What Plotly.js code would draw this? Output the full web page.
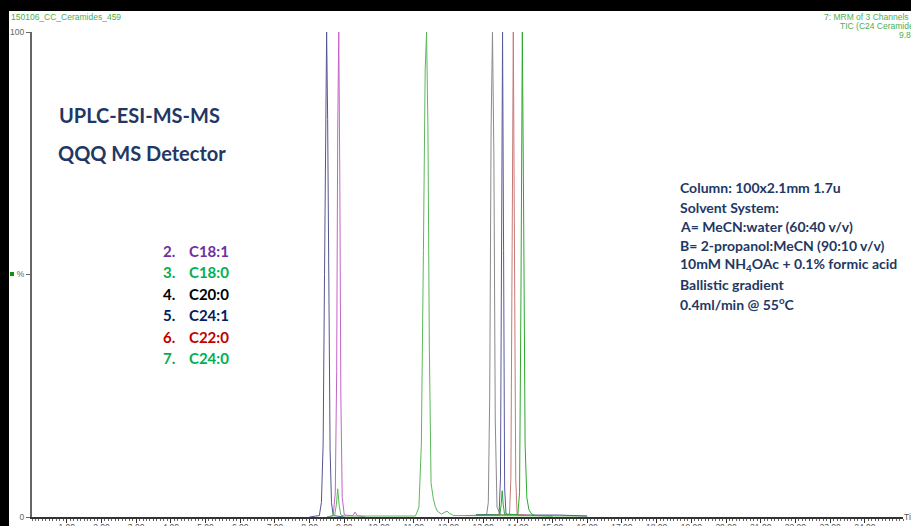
<!DOCTYPE html>
<html>
<head>
<meta charset="utf-8">
<script src="https://cdn.plot.ly/plotly-3.0.1.min.js"></script>
<style>
html,body{margin:0;padding:0;background:#000;overflow:hidden;width:911px;height:526px;}
#chart{position:absolute;left:9px;top:11px;width:902px;height:515px;background:#fff;}
</style>
</head>
<body>
<div id="chart"></div>
<script>
// ---- data (retention time in min, relative intensity in %) ----
const t_peak1 = [8.00, 8.28, 8.34, 8.39, 8.43, 8.46, 8.49, 8.52, 8.55, 8.59, 8.63, 8.68, 9.00];
const i_peak1 = [0, 0.3, 3, 15, 50, 88, 100, 82, 45, 14, 3, 0.3, 0];

const t_c18_1 = [8.50, 8.68, 8.74, 8.78, 8.81, 8.84, 8.87, 8.90, 8.94, 9.00, 9.25, 9.31, 9.37, 9.60];
const i_c18_1 = [0, 0.3, 5, 30, 80, 100, 70, 25, 4, 0.4, 0.3, 1.0, 0.3, 0];

const t_c18_0 = [8.50, 8.72, 8.77, 8.81, 8.85, 8.90, 9.00, 11.05, 11.15, 11.22, 11.28, 11.33, 11.37, 11.41, 11.45, 11.50, 11.56, 11.62, 11.68, 11.80, 11.90, 11.96, 12.02, 12.15, 16.00];
const i_c18_0 = [0, 0.3, 2.5, 5.8, 2.5, 0.4, 0.2, 0.2, 2, 15, 55, 92, 100, 80, 35, 7, 4, 2.2, 1.2, 0.6, 1.0, 1.2, 0.8, 0.3, 0.2];

const t_c20_0 = [12.50, 13.10, 13.15, 13.19, 13.23, 13.27, 13.31, 13.35, 13.40, 13.50, 14.50];
const i_c20_0 = [0.3, 0.4, 3, 25, 80, 100, 75, 20, 2, 0.5, 0.3];

const t_c24_1 = [12.80, 13.46, 13.50, 13.53, 13.56, 13.59, 13.62, 13.66, 14.20, 15.20, 16.00];
const i_c24_1 = [0.5, 0.5, 8, 60, 100, 55, 6, 0.6, 0.4, 0.4, 0.2];

const t_c22_0 = [13.30, 13.76, 13.80, 13.84, 13.87, 13.90, 13.94, 13.98, 14.40];
const i_c22_0 = [0.4, 0.4, 8, 60, 100, 60, 8, 0.5, 0.3];

const t_c24_0 = [12.80, 13.48, 13.52, 13.55, 13.58, 13.62, 14.00, 14.05, 14.09, 14.13, 14.17, 14.21, 14.26, 14.32, 14.40, 14.50, 15.00];
const i_c24_0 = [0.4, 0.4, 2.5, 5.4, 2.5, 0.5, 0.5, 5, 45, 100, 60, 15, 4, 1.5, 0.6, 0.3, 0.2];

const traceNames  = ["1", "C18:1", "C18:0", "C20:0", "C24:1", "C22:0", "C24:0"];
const traceColors = ["#55558f", "#c464c4", "#5cb85c", "#8a8a8a", "#5a5a9a", "#c87878", "#2ea82e"];

const legendNums   = ["2.", "3.", "4.", "5.", "6.", "7."];
const legendNames  = ["C18:1", "C18:0", "C20:0", "C24:1", "C22:0", "C24:0"];
const legendColors = ["#7030a0", "#00b050", "#000000", "#002060", "#c00000", "#00b050"];

const infoLines = [
  "Column: 100x2.1mm 1.7u",
  "Solvent System:",
  "A= MeCN:water (60:40 v/v)",
  "B= 2-propanol:MeCN (90:10 v/v)",
  "10mM NH<sub>4</sub>OAc + 0.1% formic acid",
  "Ballistic gradient",
  "0.4ml/min @ 55<sup>o</sup>C"
];

const xTickVals = [1,2,3,4,5,6,7,8,9,10,11,12,13,14,15,16,17,18,19,20,21,22,23,24];
const xTickText = xTickVals.map(v => v.toFixed(2));
const yTickVals = [0, 50, 100];
const yTickText = ["0", "%", "100"];

// ---- build ----
const xs = [t_peak1, t_c18_1, t_c18_0, t_c20_0, t_c24_1, t_c22_0, t_c24_0];
const ys = [i_peak1, i_c18_1, i_c18_0, i_c20_0, i_c24_1, i_c22_0, i_c24_0];
const traces = xs.map((x, k) => ({
  type: "scatter", mode: "lines", x: x, y: ys[k], name: traceNames[k],
  line: {color: traceColors[k], width: 1}, hoverinfo: "x+y+name"
}));

// pixel helpers (window coordinates -> paper)
const PL = 32, PW = 871, PB = 517, PH = 485;
const px = x => (x - PL) / PW;
const py = y => (PB - y) / PH;

const ann = [];
function addText(text, x, y, anchor, font) {
  ann.push({text: text, xref: "paper", yref: "paper", x: px(x), y: py(y),
    xanchor: anchor, yanchor: "middle", showarrow: false, font: font});
}
const lato = "Lato, 'Open Sans', sans-serif";
addText("<b>UPLC-ESI-MS-MS</b>", 139, 115, "center", {family: lato, size: 20, color: "#1f3864"});
addText("<b>QQQ MS Detector</b>", 142, 153, "center", {family: lato, size: 20, color: "#1f3864"});
legendNums.forEach((n, k) => {
  const yy = 251 + k * 21.4;
  addText("<b>" + n + "</b>", 161, yy, "left", {family: lato, size: 15, color: legendColors[k]});
  addText("<b>" + legendNames[k] + "</b>", 187, yy, "left", {family: lato, size: 15, color: legendColors[k]});
});
infoLines.forEach((s, k) => {
  addText("<b>" + s + "</b>", 678, 188 + k * 19.2, "left", {family: lato, size: 14, color: "#1f3864"});
});
const small = {family: "Arial, 'Liberation Sans', sans-serif", size: 8.5, color: "#4caf50"};
addText("150106_CC_Ceramides_459", 9, 17, "left", small);
addText("7: MRM of 3 Channels ES+", 822, 17, "left", small);
addText("TIC (C24 Ceramide d18:1/24:0)", 838, 26, "left", small);
addText("9.86e5", 897, 35, "left", small);
addText("Time", 902, 517, "left", {family: "Arial, 'Liberation Sans', sans-serif", size: 8.5, color: "#555"});

const shapes = [{type: "rect", xref: "paper", yref: "paper", x0: px(10), x1: px(14), y0: py(276), y1: py(272),
  fillcolor: "#109010", line: {width: 0}}];

const layout = {
  width: 902, height: 515,
  margin: {l: 23, r: 8, t: 21, b: 9},
  paper_bgcolor: "#ffffff", plot_bgcolor: "#ffffff",
  showlegend: false,
  xaxis: {range: [0, 25.1], showgrid: false, zeroline: false, showline: true, linecolor: "#333", linewidth: 1.5,
    tickmode: "array", tickvals: xTickVals, ticktext: xTickText, ticks: "outside", ticklen: 4, tickcolor: "#333",
    ticklabelstandoff: -3,
    tickfont: {family: "Arial, 'Liberation Sans', sans-serif", size: 8.5, color: "#555"},
    minor: {dtick: 0.1, ticks: "outside", ticklen: 2, tickcolor: "#666", showgrid: false}},
  yaxis: {range: [0, 100], showgrid: false, zeroline: false, showline: true, linecolor: "#666", linewidth: 2,
    tickmode: "array", tickvals: yTickVals, ticktext: yTickText, ticks: "outside", ticklen: 4, tickcolor: "#666",
    tickfont: {family: "Arial, 'Liberation Sans', sans-serif", size: 8.5, color: "#666"}},
  annotations: ann,
  shapes: shapes
};

Plotly.newPlot("chart", traces, layout, {displayModeBar: false, staticPlot: true});
</script>
</body>
</html>
